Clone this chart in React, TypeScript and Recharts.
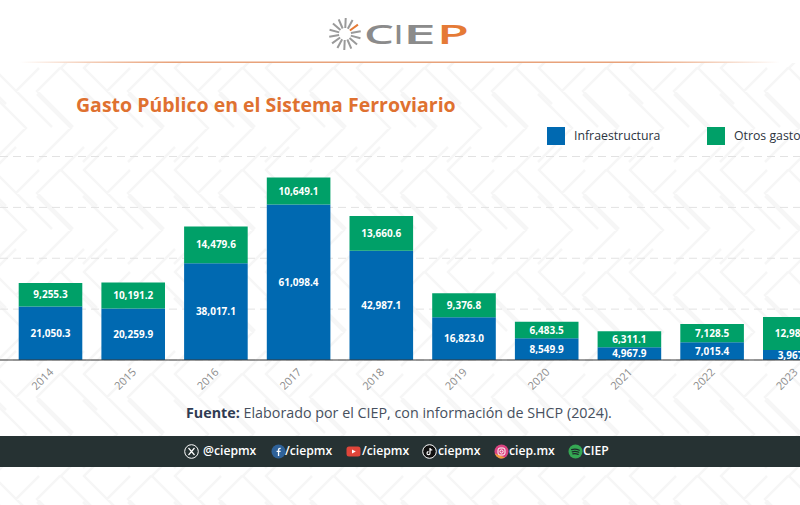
import { BarChart, Bar, XAxis, YAxis, CartesianGrid, LabelList } from 'recharts';

const years = ['2014', '2015', '2016', '2017', '2018', '2019', '2020', '2021', '2022', '2023'];
const infraestructura = [21050.3, 20259.9, 38017.1, 61098.4, 42987.1, 16823.0, 8549.9, 4967.9, 7015.4, 3967.0];
const otrosGastos = [9255.3, 10191.2, 14479.6, 10649.1, 13660.6, 9376.8, 6483.5, 6311.1, 7128.5, 12985.0];
const yTicks = [0, 20000, 40000, 60000, 80000];

const legendItems = [
  { name: 'Infraestructura', color: '#0069b1', left: 547 },
  { name: 'Otros gastos', color: '#00a068', left: 707 },
];

const socials = [
  { kind: 'x', label: '@ciepmx', icon: 191, text: 203 },
  { kind: 'fb', label: '/ciepmx', icon: 278, text: 285 },
  { kind: 'yt', label: '/ciepmx', icon: 353, text: 362 },
  { kind: 'tt', label: 'ciepmx', icon: 429, text: 438 },
  { kind: 'ig', label: 'ciep.mx', icon: 501, text: 509 },
  { kind: 'sp', label: 'CIEP', icon: 575, text: 583 },
];

const logoLetters = [
  { ch: 'C', x: 364, w: 30, color: '#8b8b8b' },
  { ch: 'I', x: 394, w: 9, color: '#8b8b8b' },
  { ch: 'E', x: 403, w: 33, color: '#8b8b8b' },
  { ch: 'P', x: 437, w: 32, color: '#e57a36' },
];

const chartData = years.map((year, i) => ({
  year,
  infraestructura: infraestructura[i],
  otros: otrosGastos[i],
}));

const FONT = '"Open Sans", sans-serif';
const fmt = (v: any) => Number(v).toLocaleString('en-US', { minimumFractionDigits: 1, maximumFractionDigits: 1 });

// one tile of the watermark, repeated over the page
function chevrons() {
  const shifts = [-1, 0, 1];
  const parts: string[] = [];
  shifts.forEach((sx) =>
    shifts.forEach((sy) => {
      const ox = sx * 91;
      const oy = sy * 102;
      [10, 55].forEach((x) => parts.push(`M${x + ox - 34} ${60 + oy - 34} L${x + ox} ${60 + oy} L${x + ox - 34} ${60 + oy + 34}`));
      [0, 21].forEach((x) => parts.push(`M${x + ox + 23} ${23 + oy - 23} L${x + ox} ${23 + oy} L${x + ox + 36} ${23 + oy + 36}`));
      [45, 68].forEach((x) => parts.push(`M${x + ox + 23} ${oy - 23} L${x + ox} ${oy} L${x + ox + 36} ${oy + 36}`));
    })
  );
  return parts.join(' ');
}

function Background() {
  return (
    <svg width={800} height={505} style={{ position: 'absolute', left: 0, top: 0 }}>
      <defs>
        <pattern id="chevrons" width={91} height={102} patternUnits="userSpaceOnUse" x={16} y={68}>
          <path d={chevrons()} fill="none" stroke="#f6f6f6" strokeWidth={2.5} />
        </pattern>
        <linearGradient id="rule" x1="0" x2="1" y1="0" y2="0">
          <stop offset="0" stopColor="#e58a55" stopOpacity={0} />
          <stop offset="0.2" stopColor="#e8a27a" />
          <stop offset="0.8" stopColor="#e8a27a" />
          <stop offset="1" stopColor="#e58a55" stopOpacity={0} />
        </linearGradient>
      </defs>
      <rect x={0} y={63} width={800} height={442} fill="url(#chevrons)" />
      <rect x={20} y={61.5} width={760} height={1.5} fill="url(#rule)" />
    </svg>
  );
}

function Logo() {
  const rays = Array.from({ length: 14 }, (_, i) => -36 + i * (360 / 14));
  return (
    <svg width={800} height={60} style={{ position: 'absolute', left: 0, top: 0 }}>
      {rays.map((a, i) => (
        <line
          key={a}
          x1={345 + 6 * Math.cos((a * Math.PI) / 180)}
          y1={34 + 6 * Math.sin((a * Math.PI) / 180)}
          x2={345 + 16 * Math.cos((a * Math.PI) / 180)}
          y2={34 + 16 * Math.sin((a * Math.PI) / 180)}
          stroke={i === 0 ? '#e57a36' : '#9a9a9a'}
          strokeWidth={2}
        />
      ))}
      {logoLetters.map((l) => (
        <text
          key={l.ch}
          x={l.x}
          y={44}
          fontFamily={FONT}
          fontWeight={600}
          fontSize={27}
          fill={l.color}
          textLength={l.w}
          lengthAdjust="spacingAndGlyphs"
        >
          {l.ch}
        </text>
      ))}
    </svg>
  );
}

function YearTick({ x, payload }: any) {
  const cx = x - 7.5;
  return (
    <text x={cx} y={379} dy="0.35em" textAnchor="middle" fontSize={11} fill="#8c8c8c" fontFamily={FONT} transform={`rotate(-45 ${cx} 379)`}>
      {payload.value}
    </text>
  );
}

function SocialIcon({ kind, x }: { kind: string; x: number }) {
  const base = { position: 'absolute', top: 444, left: x - 7.5 } as const;
  return (
    <svg width={15} height={15} style={base} viewBox="0 0 15 15">
      {kind === 'x' && (
        <g fill="none" stroke="#fff">
          <circle cx={7.5} cy={7.5} r={6.8} />
          <path d="M4.5 4 L10.5 11 M10.5 4 L4.5 11" strokeWidth={1.2} />
        </g>
      )}
      {kind === 'fb' && (
        <g>
          <circle cx={7.5} cy={7.5} r={7} fill="#2f6299" />
          <path d="M8.2 12 V8 H9.6 V6.7 H8.2 V5.6 Q8.2 4.8 9.7 4.9 V3.7 Q6.9 3.3 6.9 5.6 V6.7 H5.6 V8 H6.9 V12 Z" fill="#fff" />
        </g>
      )}
      {kind === 'yt' && (
        <g>
          <rect x={0.5} y={2.5} width={14} height={10} rx={2.5} fill="#e0453a" />
          <path d="M6 5.4 L9.8 7.5 L6 9.6 Z" fill="#fff" />
        </g>
      )}
      {kind === 'tt' && (
        <g>
          <circle cx={7.5} cy={7.5} r={6.8} fill="#111" stroke="#fff" />
          <path d="M8 4 V9.2 A1.5 1.5 0 1 1 6.5 7.7 M8 4.4 Q8.7 6 10.3 6" fill="none" stroke="#fff" strokeWidth={1.2} />
        </g>
      )}
      {kind === 'ig' && (
        <g>
          <circle cx={7.5} cy={7.5} r={7} fill="#d9437f" />
          <path d="M0.8 9.5 A7 7 0 0 0 11 13.6 Z" fill="#f0a03c" />
          <rect x={4} y={4} width={7} height={7} rx={2} fill="none" stroke="#fff" />
          <circle cx={7.5} cy={7.5} r={1.6} fill="none" stroke="#fff" />
        </g>
      )}
      {kind === 'sp' && (
        <g>
          <circle cx={7.5} cy={7.5} r={7} fill="#35a853" />
          <path d="M3.6 5.6 Q7.5 4.4 11.4 6.2 M4.2 7.8 Q7.5 6.9 10.8 8.3 M4.8 9.9 Q7.5 9.2 10.2 10.4" fill="none" stroke="#1f2a2b" strokeWidth={1.2} strokeLinecap="round" />
        </g>
      )}
    </svg>
  );
}

export default function App() {
  return (
    <div style={{ position: 'absolute', left: 0, top: 0, width: 800, height: 505, overflow: 'hidden', background: '#fff', fontFamily: FONT }}>
      <Background />
      <Logo />

      <div style={{ position: 'absolute', left: 76, top: 91, fontSize: 19.5, fontWeight: 700, color: '#df7130', whiteSpace: 'nowrap', lineHeight: '28px' }}>
        Gasto Público en el Sistema Ferroviario
      </div>

      {legendItems.map((item) => (
        <div key={item.name} style={{ position: 'absolute', left: item.left, top: 127, whiteSpace: 'nowrap' }}>
          <span style={{ position: 'absolute', left: 0, top: 0, width: 18, height: 18, background: item.color }} />
          <span style={{ position: 'absolute', left: 27, top: 0, fontSize: 12.3, lineHeight: '18px', color: '#2c3440' }}>{item.name}</span>
        </div>
      ))}

      <div style={{ position: 'absolute', left: 0, top: 0 }}>
        <BarChart width={840} height={505} data={chartData} margin={{ top: 156.5, right: 0, bottom: 105, left: 0 }}>
          <CartesianGrid vertical={false} stroke="#e2e2e2" strokeDasharray="8 5" />
          <YAxis hide domain={[0, 80000]} ticks={yTicks} />
          <XAxis
            dataKey="year"
            height={40}
            padding={{ left: 8.7, right: 4.3 }}
            interval={0}
            tickLine={false}
            axisLine={{ stroke: '#3a3a3a', strokeWidth: 1.2 }}
            tick={<YearTick />}
          />
          <Bar dataKey="infraestructura" stackId="a" fill="#0069b1" barSize={63.6} isAnimationActive={false}>
            <LabelList dataKey="infraestructura" position="center" formatter={fmt} fill="#fff" fontSize={10} fontWeight={700} fontFamily={FONT} />
          </Bar>
          <Bar dataKey="otros" stackId="a" fill="#00a068" barSize={63.6} isAnimationActive={false}>
            <LabelList dataKey="otros" position="center" formatter={fmt} fill="#fff" fontSize={10} fontWeight={700} fontFamily={FONT} />
          </Bar>
        </BarChart>
      </div>

      <div style={{ position: 'absolute', left: 186, top: 402, fontSize: 14.3, lineHeight: '22px', color: '#46505e', whiteSpace: 'nowrap' }}>
        <b style={{ color: '#2f3b52' }}>Fuente:</b> Elaborado por el CIEP, con información de SHCP (2024).
      </div>

      <div style={{ position: 'absolute', left: 0, top: 436, width: 800, height: 31, background: '#263233' }} />
      {socials.map((s) => (
        <div key={s.kind}>
          <SocialIcon kind={s.kind} x={s.icon} />
          <div style={{ position: 'absolute', left: s.text, top: 442, lineHeight: '18px', fontSize: 12.2, fontWeight: 600, color: '#fff', whiteSpace: 'nowrap' }}>
            {s.label}
          </div>
        </div>
      ))}
    </div>
  );
}
